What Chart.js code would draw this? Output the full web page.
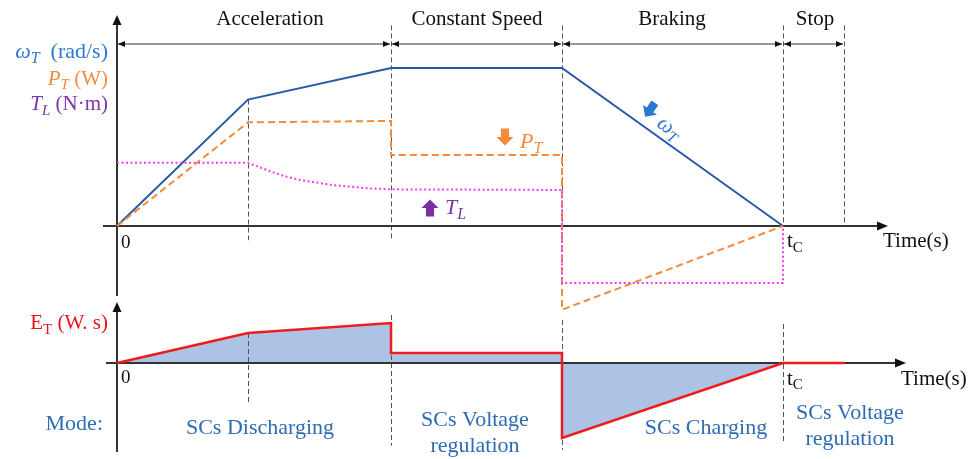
<!DOCTYPE html>
<html>
<head>
<meta charset="utf-8">
<script src="https://cdn.jsdelivr.net/npm/chart.js@4.4.0/dist/chart.umd.min.js"></script>
<style>
  html, body { margin: 0; padding: 0; background: #fff; }
  #wrap { position: relative; width: 968px; height: 459px; }
</style>
</head>
<body>
<div id="wrap"><canvas id="diagram" width="968" height="459"></canvas></div>
<script>
const phaseNames  = ['Acceleration', 'Constant Speed', 'Braking', 'Stop'];
const phaseBounds = [0, 2.74, 4.45, 6.66, 7.27];
const tKnee = 1.31;
const modeNames = [['SCs Discharging'], ['SCs Voltage', 'regulation'], ['SCs Charging'], ['SCs Voltage', 'regulation']];

const omegaT = [0, 1.31, 2.74, 4.45, 6.66];
const omegaV = [0, 0.80, 1.00, 1.00, 0];

const powerT = [0, 1.31, 2.74, 2.74, 4.45, 4.45, 6.66];
const powerV = [0, 0.656, 0.665, 0.449, 0.449, -0.53, 0];

const torqueT = [0, 1.31, 1.50, 1.66, 1.83, 2.16, 2.50, 2.74, 4.45, 4.45, 6.66, 6.66];
const torqueV = [0.40, 0.40, 0.354, 0.318, 0.291, 0.259, 0.239, 0.232, 0.228, -0.36, -0.36, 0];

const energyT = [0, 1.31, 2.74, 2.74, 4.45, 4.45, 6.66, 7.28];
const energyV = [0, 0.75, 1.00, 0.25, 0.25, -1.875, 0, 0];

const pts = (ts, vs) => ts.map((t, i) => ({ x: t, y: vs[i] }));

const FONT = '"Liberation Serif", "DejaVu Serif", serif';
const AXIS = '#333';

// text with italic / subscript parts: [text, style] style '' | 'i' | 's' | 'is'
function richText(ctx, parts, x, y, align, color, size) {
  const fontFor = p => (p[1].includes('i') ? 'italic ' : '') +
    Math.round(p[1].includes('s') ? size * 0.72 : size) + 'px ' + FONT;
  let w = 0;
  parts.forEach(p => { ctx.font = fontFor(p); w += ctx.measureText(p[0]).width; });
  let cx = align === 'right' ? x - w : align === 'center' ? x - w / 2 : x;
  ctx.fillStyle = color;
  ctx.textAlign = 'left';
  ctx.textBaseline = 'middle';
  parts.forEach(p => {
    ctx.font = fontFor(p);
    ctx.fillText(p[0], cx, y + (p[1].includes('s') ? size * 0.3 : 0));
    cx += ctx.measureText(p[0]).width;
  });
}

function arrowHead(ctx, x, y, dx, dy, len, half) {
  const px = -dy, py = dx;
  ctx.beginPath();
  ctx.moveTo(x, y);
  ctx.lineTo(x - dx * len + px * half, y - dy * len + py * half);
  ctx.lineTo(x - dx * len - px * half, y - dy * len - py * half);
  ctx.closePath();
  ctx.fill();
}

// block arrow pointing "down" in its own frame, rotated by angle
function blockArrow(ctx, cx, cy, angle, s, color) {
  ctx.save();
  ctx.translate(cx, cy);
  ctx.rotate(angle);
  ctx.fillStyle = color;
  ctx.beginPath();
  ctx.moveTo(-0.24 * s, -0.5 * s);
  ctx.lineTo(0.24 * s, -0.5 * s);
  ctx.lineTo(0.24 * s, 0);
  ctx.lineTo(0.5 * s, 0);
  ctx.lineTo(0, 0.5 * s);
  ctx.lineTo(-0.5 * s, 0);
  ctx.lineTo(-0.24 * s, 0);
  ctx.closePath();
  ctx.fill();
  ctx.restore();
}

const schematic = {
  id: 'schematic',
  beforeDatasetsDraw(chart) {
    const { ctx } = chart;
    const X = v => chart.scales.x.getPixelForValue(v);
    const YT = v => chart.scales.y.getPixelForValue(v);
    const YB = v => chart.scales.yE.getPixelForValue(v);
    ctx.save();

    // dashed phase separators
    ctx.strokeStyle = '#555';
    ctx.lineWidth = 1;
    ctx.setLineDash([5, 3]);
    const vline = (t, y1, y2) => {
      ctx.beginPath();
      ctx.moveTo(Math.round(X(t)) + 0.5, y1);
      ctx.lineTo(Math.round(X(t)) + 0.5, y2);
      ctx.stroke();
    };
    vline(tKnee, YT(0.80), YT(-0.09));
    vline(phaseBounds[1], YT(1.27), YT(-0.09));
    vline(phaseBounds[2], YT(1.27), YT(-0.09));
    vline(phaseBounds[3], YT(1.27), YT(0));
    vline(phaseBounds[4], YT(1.27), YT(0));
    vline(tKnee, YB(0.75), YB(-0.98));
    vline(phaseBounds[1], YB(1.2), YB(-2.07));
    vline(phaseBounds[2], YB(1.075), YB(-2.17));
    vline(phaseBounds[3], YB(0.975), YB(-2.0));
    ctx.setLineDash([]);

    // axes
    ctx.strokeStyle = AXIS;
    ctx.fillStyle = '#111';
    ctx.lineWidth = 2;
    const seg = (x1, y1, x2, y2) => { ctx.beginPath(); ctx.moveTo(x1, y1); ctx.lineTo(x2, y2); ctx.stroke(); };
    // top
    seg(X(0), YT(-0.443), X(0), YT(1.30));
    arrowHead(ctx, X(0), YT(1.335), 0, -1, 10, 4.5);
    seg(X(-0.14), YT(0), X(7.66), YT(0));
    arrowHead(ctx, X(7.71), YT(0), 1, 0, 11, 4.5);
    // bottom
    seg(X(0), YB(-2.225), X(0), YB(1.40));
    arrowHead(ctx, X(0), YB(1.525), 0, -1, 10, 4.5);
    seg(X(-0.11), YB(0), X(7.84), YB(0));
    arrowHead(ctx, X(7.89), YB(0), 1, 0, 11, 4.5);

    // phase span arrows
    ctx.lineWidth = 1;
    const yA = YT(1.152);
    for (let i = 0; i < phaseNames.length; i++) {
      const a = X(phaseBounds[i]) + 1, b = X(phaseBounds[i + 1]) - 1;
      seg(a, yA, b, yA);
      arrowHead(ctx, a, yA, -1, 0, 7, 3);
      arrowHead(ctx, b, yA, 1, 0, 7, 3);
    }
    ctx.restore();
  },
  afterDatasetsDraw(chart) {
    const { ctx } = chart;
    const X = v => chart.scales.x.getPixelForValue(v);
    const YT = v => chart.scales.y.getPixelForValue(v);
    const YB = v => chart.scales.yE.getPixelForValue(v);
    ctx.save();

    // phase names
    const phaseCenters = [1.53, 3.60, 5.55, 6.98];
    phaseNames.forEach((n, i) => richText(ctx, [[n, '']], X(phaseCenters[i]), YT(1.305), 'center', '#111', 21));

    // left axis labels
    richText(ctx, [['ω', 'i'], ['T', 'is'], ['  (rad/s)', '']], X(-0.09), YT(1.10), 'right', '#2f7ad0', 22);
    richText(ctx, [['P', 'i'], ['T', 'is'], [' (W)', '']], X(-0.09), YT(0.93), 'right', '#f58a3c', 21);
    richText(ctx, [['T', 'i'], ['L', 'is'], [' (N·m)', '']], X(-0.09), YT(0.77), 'right', '#7a35a8', 21);
    richText(ctx, [['E', ''], ['T', 's'], [' (W. s)', '']], X(-0.09), YB(0.98), 'right', '#e8141c', 21);

    // origin / tc / time labels
    richText(ctx, [['0', '']], X(0.04), YT(-0.11), 'left', '#111', 19);
    richText(ctx, [['0', '']], X(0.04), YB(-0.38), 'left', '#111', 19);
    richText(ctx, [['t', ''], ['C', 's']], X(6.70), YT(-0.10), 'left', '#111', 21);
    richText(ctx, [['t', ''], ['C', 's']], X(6.70), YB(-0.40), 'left', '#111', 21);
    richText(ctx, [['Time(s)', '']], X(7.66), YT(-0.10), 'left', '#111', 21);
    richText(ctx, [['Time(s)', '']], X(7.84), YB(-0.42), 'left', '#111', 21);

    // curve annotations
    blockArrow(ctx, X(3.88), YT(0.563), 0, 17, '#f58a3c');
    richText(ctx, [['P', 'i'], ['T', 'is']], X(4.03), YT(0.53), 'left', '#f58a3c', 22);
    blockArrow(ctx, X(3.13), YT(0.114), Math.PI, 17, '#7a2f9e');
    richText(ctx, [['T', 'i'], ['L', 'is']], X(3.28), YT(0.11), 'left', '#7a35a8', 22);
    const ang = Math.atan2(YT(0) - YT(omegaV[3]), X(omegaT[4]) - X(omegaT[3]));
    blockArrow(ctx, X(5.33), YT(0.735), ang, 17, '#2a78d0');
    ctx.save();
    ctx.translate(X(5.52), YT(0.62));
    ctx.rotate(ang);
    richText(ctx, [['ω', 'i'], ['T', 'is']], 0, 0, 'center', '#2f7ad0', 22);
    ctx.restore();

    // mode row
    const modeColor = '#2e6cb5';
    richText(ctx, [['Mode:', '']], X(-0.14), YB(-1.53), 'right', modeColor, 22);
    const modeCenters = [1.43, 3.58, 5.89, 7.33];
    const modeRows = [[-1.63], [-1.43, -2.08], [-1.63], [-1.25, -1.90]];
    modeNames.forEach((lines, i) => lines.forEach((l, j) =>
      richText(ctx, [[l, '']], X(modeCenters[i]), YB(modeRows[i][j]), 'center', modeColor, 22)));
    ctx.restore();
  }
};

Chart.defaults.font.family = FONT;

new Chart(document.getElementById('diagram').getContext('2d'), {
  type: 'line',
  data: {
    datasets: [
      {
        label: 'E_T', data: pts(energyT, energyV), yAxisID: 'yE',
        borderColor: '#ee1c1c', borderWidth: 2.5, backgroundColor: '#adc3e6',
        fill: 'origin', pointRadius: 0
      },
      {
        label: 'T_L', data: pts(torqueT, torqueV), yAxisID: 'y',
        borderColor: '#f23cf2', borderWidth: 2, borderDash: [2, 2.5],
        fill: false, pointRadius: 0
      },
      {
        label: 'P_T', data: pts(powerT, powerV), yAxisID: 'y',
        borderColor: '#f58a3c', borderWidth: 2, borderDash: [7, 4],
        fill: false, pointRadius: 0
      },
      {
        label: 'omega_T', data: pts(omegaT, omegaV), yAxisID: 'y',
        borderColor: '#285aa8', borderWidth: 2,
        fill: false, pointRadius: 0
      }
    ]
  },
  options: {
    responsive: false,
    animation: false,
    layout: { padding: 0 },
    plugins: {
      legend: { display: false },
      tooltip: { enabled: false },
      filler: { drawTime: 'beforeDraw' }
    },
    scales: {
      x: { type: 'linear', min: -1.17, max: 8.51, display: false },
      y: { type: 'linear', min: -1.4747, max: 1.4304, display: false },
      yE: { type: 'linear', min: -2.4, max: 9.075, display: false }
    }
  },
  plugins: [schematic]
});
</script>
</body>
</html>
